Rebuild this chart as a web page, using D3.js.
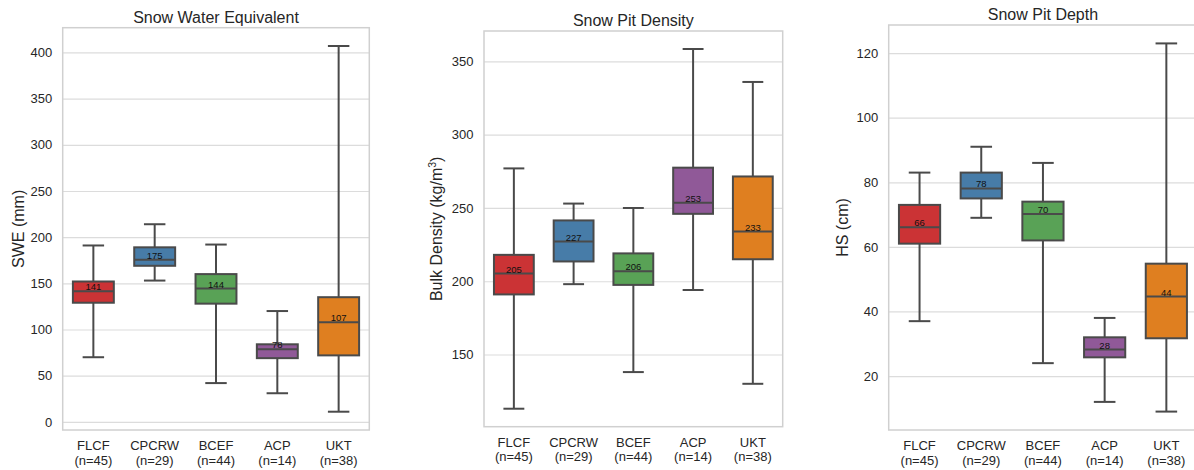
<!DOCTYPE html>
<html>
<head>
<meta charset="utf-8">
<script src="https://cdn.jsdelivr.net/npm/d3@7"></script>
<style>
  body { margin: 0; background: #fff; }
  svg { display: block; font-family: "Liberation Sans", Arial, sans-serif; }
</style>
</head>
<body>
<div id="chart-area"></div>
<script>
// sites and sample counts
const sites = ["FLCF", "CPCRW", "BCEF", "ACP", "UKT"];
const counts = [45, 29, 44, 14, 38];
const siteColors = ["#cb3335", "#477ca8", "#59a256", "#905998", "#df7f20"];

// [whisker low, q1, median, q3, whisker high] per site
const sweStats = [
    [70, 129, 141.4, 152, 191],
    [153, 169, 175.6, 189, 214],
    [42, 128, 144.3, 160, 192],
    [31, 69, 78.6, 84, 120],
    [11, 72, 107.9, 135, 407]
];
const densityStats = [
    [113, 191, 205.2, 218, 277],
    [198, 213.5, 227.1, 241.5, 253],
    [138, 197.5, 206.8, 219, 250],
    [194, 246, 253.5, 277.5, 358.5],
    [130, 215, 233.9, 271.5, 336]
];
const depthStats = [
    [37, 61, 66.1, 73, 83],
    [69, 75, 78.1, 83, 91],
    [24, 62, 70.2, 74, 86],
    [12, 25.8, 28.2, 32, 38],
    [9, 31.7, 44.6, 54.8, 123]
];

const sweTicks = [0, 50, 100, 150, 200, 250, 300, 350, 400];
const densityTicks = [150, 200, 250, 300, 350];
const depthTicks = [20, 40, 60, 80, 100, 120];

const svgWidth = 1194;
const svgHeight = 470;

const svg = d3.select("#chart-area")
    .append("svg")
    .attr("width", svgWidth)
    .attr("height", svgHeight);

function renderBoxPanel(cfg) {
    const { left, right, top, bottom, stats, ticks, title, label } = cfg;

    // matplotlib style 5% margins around data
    const lo = d3.min(stats, d => d[0]);
    const hi = d3.max(stats, d => d[4]);
    const pad = (hi - lo) * 0.05;

    const xScale = d3.scaleBand()
        .domain(sites)
        .range([left, right])
        .paddingInner(0.3)
        .paddingOuter(0.15);

    const yScale = d3.scaleLinear()
        .domain([lo - pad, hi + pad])
        .range([bottom, top]);

    const g = svg.append("g");

    // horizontal grid
    g.append("g")
        .attr("transform", `translate(${left},0)`)
        .call(d3.axisLeft(yScale).tickValues(ticks).tickSize(-(right - left)).tickFormat(""))
        .call(a => a.select(".domain").remove())
        .selectAll("line")
        .attr("stroke", "#dcdcdc")
        .attr("stroke-width", 1.2);

    // frame
    g.append("rect")
        .attr("x", left)
        .attr("y", top)
        .attr("width", right - left)
        .attr("height", bottom - top)
        .attr("fill", "none")
        .attr("stroke", "#d0d0d0")
        .attr("stroke-width", 1.5);

    // y tick labels
    const yAxisGroup = g.append("g")
        .attr("transform", `translate(${left},0)`)
        .call(d3.axisLeft(yScale).tickValues(ticks).tickSize(0).tickPadding(10.5));
    yAxisGroup.select(".domain").remove();
    yAxisGroup.selectAll("text")
        .attr("fill", "#262626")
        .style("font-size", "13px")
        .style("font-family", "Liberation Sans, Arial, sans-serif");

    // x tick labels, two lines
    const xLabels = g.append("g");
    sites.forEach((s, i) => {
        const cx = xScale(s) + xScale.bandwidth() / 2;
        const t = xLabels.append("text")
            .attr("text-anchor", "middle")
            .attr("fill", "#262626")
            .style("font-size", "13px");
        t.append("tspan").attr("x", cx).attr("y", bottom + 20).text(s);
        t.append("tspan").attr("x", cx).attr("y", bottom + 34.5).text(`(n=${counts[i]})`);
    });

    // boxes
    const stroke = "#4a4a4a";
    const boxes = g.selectAll(".box")
        .data(stats)
        .join("g")
        .attr("class", "box");

    boxes.each(function(d, i) {
        const b = d3.select(this);
        const x0 = xScale(sites[i]);
        const w = xScale.bandwidth();
        const cx = x0 + w / 2;
        const capW = w / 2;

        b.append("line")
            .attr("x1", cx).attr("x2", cx)
            .attr("y1", yScale(d[0])).attr("y2", yScale(d[1]))
            .attr("stroke", stroke).attr("stroke-width", 2);
        b.append("line")
            .attr("x1", cx).attr("x2", cx)
            .attr("y1", yScale(d[3])).attr("y2", yScale(d[4]))
            .attr("stroke", stroke).attr("stroke-width", 2);
        [d[0], d[4]].forEach(v => {
            b.append("line")
                .attr("x1", cx - capW / 2).attr("x2", cx + capW / 2)
                .attr("y1", yScale(v)).attr("y2", yScale(v))
                .attr("stroke", stroke).attr("stroke-width", 2);
        });

        b.append("rect")
            .attr("x", x0 + 1)
            .attr("y", yScale(d[3]))
            .attr("width", w - 2)
            .attr("height", yScale(d[1]) - yScale(d[3]))
            .attr("fill", siteColors[i])
            .attr("stroke", stroke)
            .attr("stroke-width", 2);

        b.append("line")
            .attr("x1", x0 + 1).attr("x2", x0 + w - 1)
            .attr("y1", yScale(d[2])).attr("y2", yScale(d[2]))
            .attr("stroke", stroke).attr("stroke-width", 2);

        // median label, truncated like int()
        b.append("text")
            .attr("x", cx)
            .attr("y", yScale(d[2]) - 1)
            .attr("text-anchor", "middle")
            .attr("fill", "#111")
            .style("font-size", "9.5px")
            .text(Math.floor(d[2]));
    });

    // title
    g.append("text")
        .attr("x", (left + right) / 2)
        .attr("y", top - 5)
        .attr("text-anchor", "middle")
        .attr("fill", "#262626")
        .style("font-size", "16px")
        .text(title);

    // y label
    const yl = g.append("text")
        .attr("transform", `translate(${cfg.labelX},${(top + bottom) / 2}) rotate(-90)`)
        .attr("text-anchor", "middle")
        .attr("fill", "#262626")
        .style("font-size", "16px");
    label(yl);
}

renderBoxPanel({
    left: 62.7, right: 369.3, top: 27.7, bottom: 430,
    stats: sweStats, ticks: sweTicks,
    title: "Snow Water Equivalent",
    labelX: 24,
    label: t => t.text("SWE (mm)")
});

renderBoxPanel({
    left: 484, right: 782.7, top: 31, bottom: 426.7,
    stats: densityStats, ticks: densityTicks,
    title: "Snow Pit Density",
    labelX: 442,
    label: t => {
        t.append("tspan").text("Bulk Density (kg/m");
        t.append("tspan").attr("baseline-shift", "super").style("font-size", "10.5px").text("3");
        t.append("tspan").text(")");
    }
});

renderBoxPanel({
    left: 888.7, right: 1197.2, top: 25, bottom: 430,
    stats: depthStats, ticks: depthTicks,
    title: "Snow Pit Depth",
    labelX: 847.5,
    label: t => t.text("HS (cm)")
});
</script>
</body>
</html>
